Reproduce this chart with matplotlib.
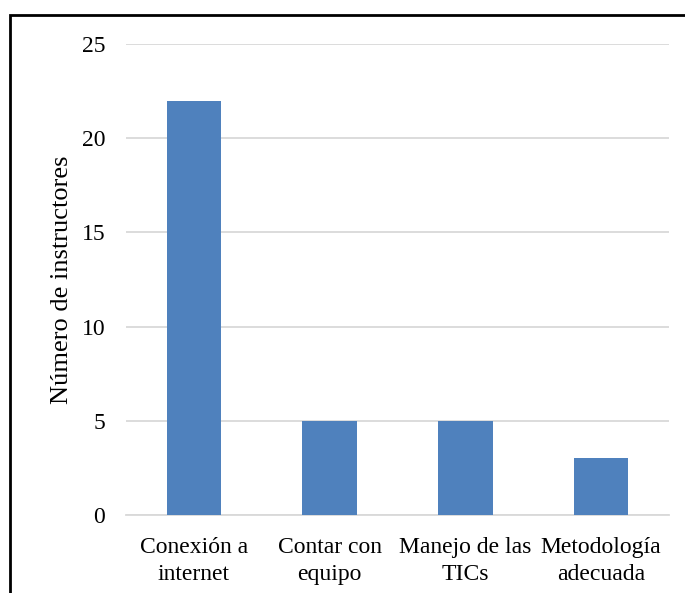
import matplotlib
matplotlib.use("Agg")
import matplotlib.pyplot as plt
from matplotlib.patches import Rectangle

categories = ["Conexión a\ninternet", "Contar con\nequipo", "Manejo de las\nTICs", "Metodología\nadecuada"]
values = [22, 5, 5, 3]
yticks = [0, 5, 10, 15, 20, 25]

plt.rcParams["font.family"] = ["Liberation Serif", "DejaVu Serif"]

W, H = 685, 593
fig = plt.figure(figsize=(W / 100, H / 100), dpi=100)

# plot area in pixel coordinates
left, right, top, bottom = 126, 669, 44, 515
ax = fig.add_axes([left / W, 1 - bottom / H, (right - left) / W, (bottom - top) / H])

x = list(range(len(categories)))
ax.bar(x, values, width=0.4, color="#4F81BD", zorder=3)
ax.set_xlim(-0.5, len(categories) - 0.5)
ax.set_ylim(0, 25)
ax.set_yticks(yticks)
ax.set_xticks(x)
ax.set_xticklabels(categories, fontsize=17, linespacing=1.35)
ax.tick_params(axis="y", labelsize=17, length=0, pad=15)
ax.tick_params(axis="x", length=0, pad=16)
ax.grid(axis="y", color="#D9D9D9", linewidth=1.3, zorder=0)
for s in ["top", "right", "left"]:
    ax.spines[s].set_visible(False)
ax.spines["bottom"].set_color("#D9D9D9")
ax.spines["bottom"].set_linewidth(1.3)
ax.set_ylabel("Número de instructores", fontsize=19, labelpad=6)

# chart frame running off the right and bottom edges
fig.patches.append(Rectangle((10 / W, -0.1), 1.1, 1 - 15 / H + 0.1,
                             transform=fig.transFigure, fill=False,
                             edgecolor="black", linewidth=2, zorder=10))

fig.savefig("out.png", dpi=100, facecolor="white")
